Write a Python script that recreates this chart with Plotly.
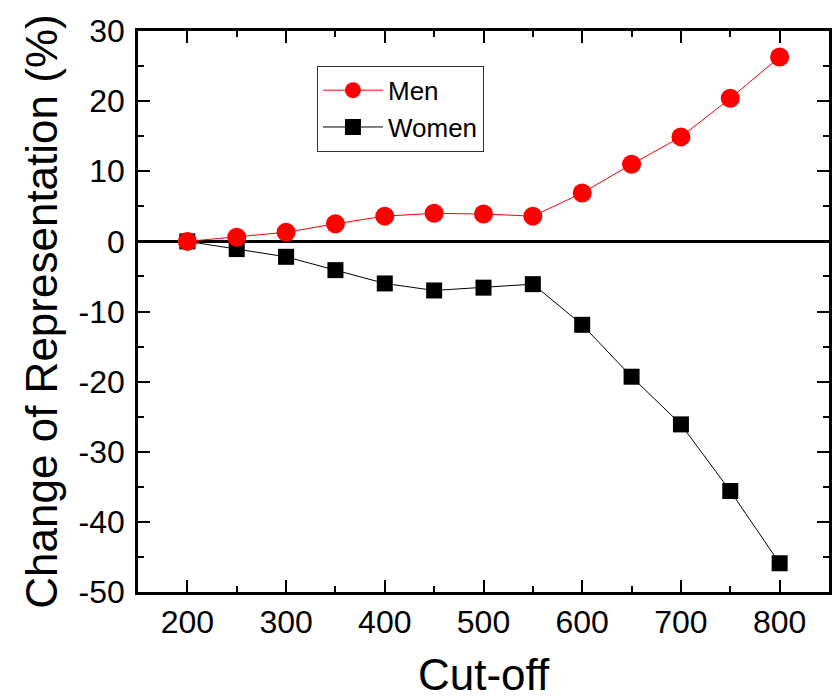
import plotly.graph_objects as go

# Cut-off scores and percentage change in representation
cutoff = [200, 250, 300, 350, 400, 450, 500, 550, 600, 650, 700, 750, 800]
men = [0.0, 0.6, 1.3, 2.5, 3.6, 4.0, 3.9, 3.6, 6.9, 11.0, 14.9, 20.4, 26.3]
women = [0.0, -1.1, -2.2, -4.1, -6.0, -7.0, -6.6, -6.1, -11.9, -19.3, -26.1, -35.6, -45.9]

x_ticks = [200, 300, 400, 500, 600, 700, 800]
y_ticks = [-50, -40, -30, -20, -10, 0, 10, 20, 30]
y_tick_labels = ["-50", "-40", "-30", "-20", "-10", "0", "10", "20", "30"]

FONT = "Liberation Sans, Arial, sans-serif"

fig = go.Figure()
fig.add_trace(go.Scatter(
    x=cutoff, y=women, name="Women", mode="lines+markers",
    line=dict(color="black", width=1),
    marker=dict(symbol="square", size=16, color="black"),
))
fig.add_trace(go.Scatter(
    x=cutoff, y=men, name="Men", mode="lines+markers",
    line=dict(color="#ff0000", width=1),
    marker=dict(symbol="circle", size=19, color="#ff0000"),
))

axis_common = dict(
    showline=True, linecolor="black", linewidth=2.5, mirror="ticks",
    ticks="inside", ticklen=12, tickwidth=2, tickcolor="black",
    showgrid=False, tickfont=dict(family=FONT, size=32, color="black"),
)

fig.update_xaxes(
    range=[150, 850], tickmode="array", tickvals=x_ticks,
    ticktext=[str(v) for v in x_ticks],
    minor=dict(ticks="inside", ticklen=6, tickwidth=2, tickcolor="black",
               tickvals=[250, 350, 450, 550, 650, 750], showgrid=False),
    zeroline=False,
    **axis_common,
)
fig.update_yaxes(
    range=[-50, 30], tickmode="array", tickvals=y_ticks, ticktext=y_tick_labels,
    minor=dict(ticks="inside", ticklen=6, tickwidth=2, tickcolor="black",
               tickvals=[-45, -35, -25, -15, -5, 5, 15, 25], showgrid=False),
    zeroline=True, zerolinecolor="black", zerolinewidth=2.5,
    ticklabelstandoff=4,
    title=dict(text="Change of Representation (%)",
               font=dict(family=FONT, size=44, color="black"), standoff=8),
    **axis_common,
)

# x-axis title placed near the lower edge of the canvas
fig.add_annotation(
    text="Cut-off", xref="paper", yref="paper", x=0.5, y=-0.100,
    xanchor="center", yanchor="top", showarrow=False,
    font=dict(family=FONT, size=44, color="black"),
)

fig.update_layout(
    width=832, height=700,
    margin=dict(l=138, r=0, t=31, b=108),
    plot_bgcolor="white", paper_bgcolor="white",
    showlegend=True,
    legend=dict(
        x=0.259, y=0.938, xanchor="left", yanchor="top",
        traceorder="reversed",
        bgcolor="white", bordercolor="#333333", borderwidth=1,
        font=dict(family=FONT, size=26, color="black"),
        itemwidth=60, tracegroupgap=0,
    ),
)

fig.write_html("out.html")
